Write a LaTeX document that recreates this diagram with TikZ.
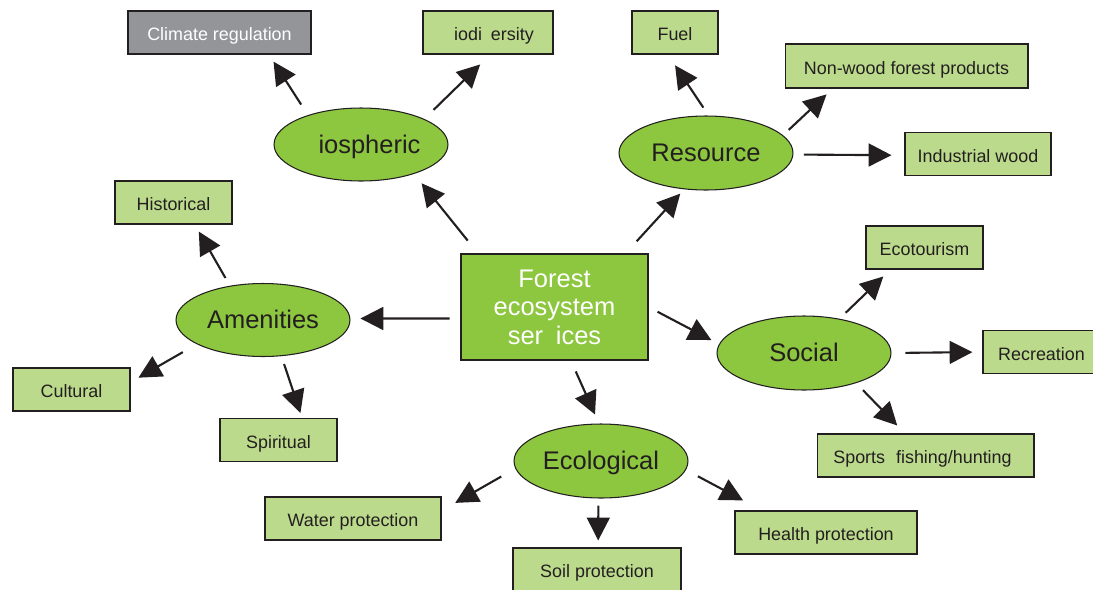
\documentclass[tikz,border=0pt]{standalone}
\usepackage{fontspec}
\setmainfont{Liberation Sans}
\usetikzlibrary{shapes.geometric,arrows.meta}

\definecolor{leafgreen}{HTML}{8DC63F}
\definecolor{palegreen}{HTML}{BBDA8B}
\definecolor{climgray}{HTML}{939598}
\definecolor{inkblack}{HTML}{231F20}

\tikzset{
  topic/.style={ellipse, draw=inkblack, line width=0.6pt, fill=leafgreen, minimum width=3.48cm, minimum height=1.46cm, inner sep=0pt, text height=12pt, text depth=2pt, text=inkblack, font=\fontsize{14.5}{16}\selectfont},
  leaf/.style={draw=inkblack, line width=0.6pt, fill=palegreen, minimum height=0.86cm, inner sep=0pt, text height=10pt, text depth=0.4pt, text=inkblack, font=\fontsize{10.2}{11}\selectfont},
  arr/.style={draw=inkblack, line width=1.2pt, -{Triangle[length=13pt,width=13pt]}},
}

\begin{document}
\begin{tikzpicture}[x=0.02cm, y=-0.02cm]
\useasboundingbox (0,0) rectangle (1093,589);

% centre
\node[draw=inkblack, line width=0.6pt, fill=leafgreen, minimum width=3.74cm, minimum height=2.12cm, align=center, text=white, font=\fontsize{14.5}{16.2}\selectfont] (forest) at (554.5,307) {Forest\\ecosystem\\ser\phantom{v}ices};

% groups
\node[topic] (bio) at (361,144.5) {\phantom{B}iospheric};
\node[topic, minimum height=1.48cm] (res) at (706,153) {Resource};
\node[topic] (amen) at (263,320) {Amenities};
\node[topic, minimum height=1.48cm] (soc) at (804,353) {Social};
\node[topic, minimum height=1.48cm] (eco) at (601,461) {Ecological};

% services
\node[leaf, fill=climgray, text=white, minimum width=3.66cm] (clim) at (219.5,32.5) {Climate regulation};
\node[leaf, minimum width=2.6cm] (biodiv) at (488,32.5) {\phantom{B}iodi\phantom{v}ersity};
\node[leaf, minimum width=1.72cm] (fuel) at (675,32.5) {Fuel};
\node[leaf, minimum width=4.86cm, minimum height=0.88cm] (nonwood) at (906.5,66) {Non-wood forest products};
\node[leaf, minimum width=2.92cm] (indwood) at (978,154) {Industrial wood};
\node[leaf, minimum width=2.34cm] (hist) at (173.5,202.5) {Historical};
\node[leaf, minimum width=2.34cm] (cult) at (71.5,389.5) {Cultural};
\node[leaf, minimum width=2.34cm] (spir) at (278.5,440) {Spiritual};
\node[leaf, minimum width=2.34cm] (ecot) at (924.5,247.5) {Ecotourism};
\node[leaf, minimum width=2.34cm] (recr) at (1041.5,352) {Recreation};
\node[leaf, minimum width=4.34cm] (sports) at (925.5,455.5) {Sports\phantom{ (}fishing/hunting\phantom{)}};
\node[leaf, minimum width=3.52cm] (water) at (353,518.5) {Water protection};
\node[leaf, minimum width=3.36cm] (soil) at (597,569.5) {Soil protection};
\node[leaf, minimum width=3.64cm] (health) at (826,532.5) {Health protection};

% centre to groups
\draw[arr, shorten <=9.4pt, shorten >=6.8pt] (forest.145.9) -- (bio.-29);
\draw[arr, shorten <=9.4pt, shorten >=3.3pt] (forest.37.9) -- (res.-121.6);
\draw[arr, shorten <=6.2pt, shorten >=5.7pt] (forest.187.3) -- (amen.1.3);
\draw[arr, shorten <=5.8pt, shorten >=4.9pt] (forest.0.6) -- (soc.174);
\draw[arr, shorten <=6.8pt, shorten >=5.6pt] (forest.-73.6) -- (eco.93.1);

% groups to services
\draw[arr, shorten <=7.1pt, shorten >=4.8pt] (bio.151.4) -- (clim.-24.2);
\draw[arr, shorten <=7.4pt, shorten >=8.1pt] (bio.22) -- (biodiv.-84.2);
\draw[arr, shorten <=5.4pt, shorten >=7.4pt] (res.86.6) -- (fuel.-108.5);
\draw[arr, shorten <=4.4pt, shorten >=4.9pt] (res.13) -- (nonwood.-163.5);
\draw[arr, shorten <=6pt, shorten >=7.4pt] (res.-1.3) -- (indwood.181.6);
\draw[arr, shorten <=5.1pt, shorten >=4.6pt] (amen.134.4) -- (hist.-46.4);
\draw[arr, shorten <=9.1pt, shorten >=5.2pt] (amen.200.1) -- (cult.7.9);
\draw[arr, shorten <=4.7pt, shorten >=3pt] (amen.-63) -- (spir.43.6);
\draw[arr, shorten <=4.9pt, shorten >=5.7pt] (soc.44.2) -- (ecot.-147.9);
\draw[arr, shorten <=7.9pt, shorten >=5.7pt] (soc.0.7) -- (recr.180);
\draw[arr, shorten <=5.6pt, shorten >=6.3pt] (soc.-30.4) -- (sports.133.9);
\draw[arr, shorten <=9.2pt, shorten >=9pt] (eco.185.7) -- (water.5.8);
\draw[arr, shorten <=4pt, shorten >=4pt] (eco.-94.6) -- (soil.87.3);
\draw[arr, shorten <=7.7pt, shorten >=12.2pt] (eco.-6.6) -- (health.161.4);

\end{tikzpicture}
\end{document}
